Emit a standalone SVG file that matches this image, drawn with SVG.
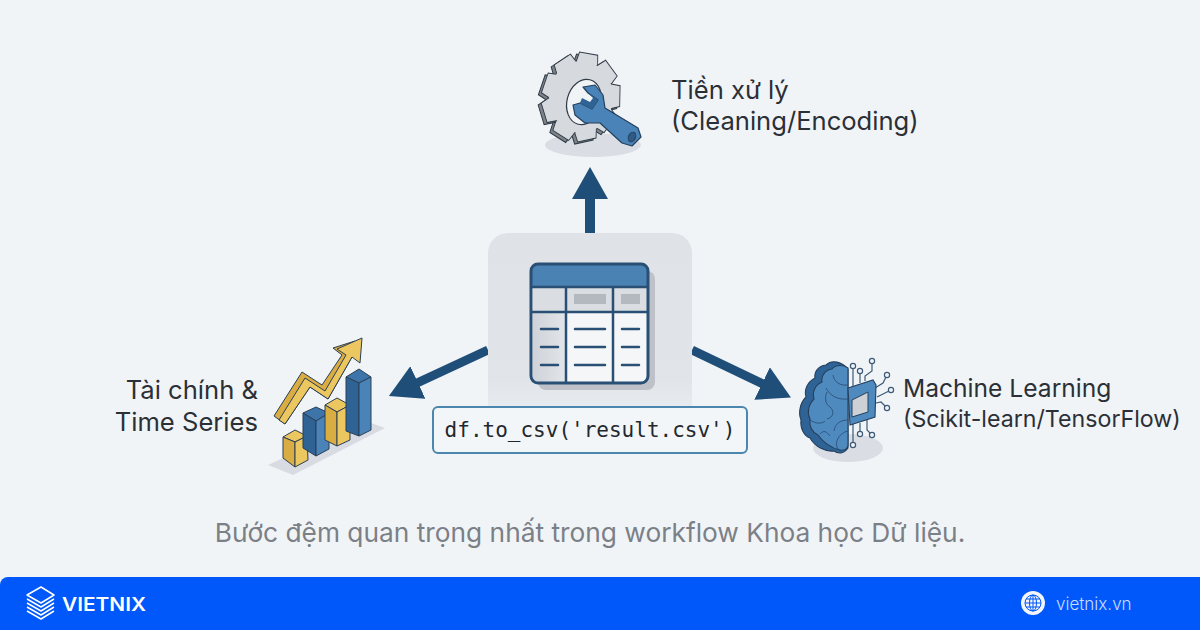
<svg xmlns="http://www.w3.org/2000/svg" xmlns:xlink="http://www.w3.org/1999/xlink" width="1200" height="630" viewBox="0 0 1200 630">
<style>
.lbl{font-family:Inter,"Liberation Sans",sans-serif;font-size:25.6px;fill:#2b3036}
.ol{stroke:#2b3f55;stroke-width:1;stroke-linejoin:round}
.yl{fill:#ecc75f}.yd{fill:#d9ad42}.bl{fill:#4a83b8}.bd{fill:#2f6396}.bt{fill:#3d75aa}
.tr{fill:none;stroke:#3c5a78;stroke-width:1.2}
.nd{fill:#f1f4f7;stroke:#3c5a78;stroke-width:1.2}
.tl{stroke:#2a4f74;stroke-width:2.5;fill:none;stroke-linecap:round}
.gl{fill:none;stroke:#0057fa;stroke-width:1}
.lg{fill:none;stroke:#fff;stroke-width:1.5;stroke-linejoin:round}
</style>
<defs>
<linearGradient id="box" x1="0" y1="0" x2="0" y2="1"><stop offset="0" stop-color="#dfe3e8"/><stop offset="0.75" stop-color="#e1e5ea"/><stop offset="1" stop-color="#eceff3"/></linearGradient>
<linearGradient id="col" x1="0" y1="0" x2="1" y2="0"><stop offset="0" stop-color="#cfd3d9"/><stop offset="1" stop-color="#e2e5e9"/></linearGradient>
<marker id="ah" markerUnits="userSpaceOnUse" markerWidth="34" markerHeight="36" refX="1" refY="18" orient="auto"><path d="M0 0L32 18L0 36Z" fill="#1f4e79"/></marker>
<path id="tooth" d="M-13-31L-10.500-44L10.500-44L13-31Z"/>
<g id="gear"><use xlink:href="#tooth" href="#tooth"/><use xlink:href="#tooth" href="#tooth" transform="rotate(40)"/><use xlink:href="#tooth" href="#tooth" transform="rotate(80)"/><use xlink:href="#tooth" href="#tooth" transform="rotate(120)"/><use xlink:href="#tooth" href="#tooth" transform="rotate(160)"/><use xlink:href="#tooth" href="#tooth" transform="rotate(200)"/><use xlink:href="#tooth" href="#tooth" transform="rotate(240)"/><use xlink:href="#tooth" href="#tooth" transform="rotate(280)"/><use xlink:href="#tooth" href="#tooth" transform="rotate(320)"/><circle r="34"/></g>
</defs>

<rect width="1200" height="630" fill="#f1f4f7"/>

<g id="connectors">
<line x1="590" y1="233" x2="590" y2="198" stroke="#1f4e79" stroke-width="10" marker-end="url(#ah)"/>
<line x1="488" y1="350" x2="417" y2="383" stroke="#1f4e79" stroke-width="9" marker-end="url(#ah)"/>
<line x1="692" y1="350" x2="763" y2="384" stroke="#1f4e79" stroke-width="9" marker-end="url(#ah)"/>
</g>

<g id="node-preprocess">
<ellipse cx="593" cy="145" rx="48" ry="12" fill="#dadee4"/>
<g transform="translate(578 99) rotate(10) scale(.88 1)" fill="#7d8389" stroke="#2f3a46" stroke-width="1.100"><use xlink:href="#gear" href="#gear"/></g>
<g transform="translate(581 97) rotate(10) scale(.88 1)" fill="#d6d9dd" stroke="#2f3a46" stroke-width="1"><use xlink:href="#gear" href="#gear"/></g>
<ellipse cx="581" cy="97" rx="32" ry="36" fill="#d6d9dd"/>
<ellipse cx="584" cy="102" rx="17" ry="23" transform="rotate(15 584 102)" fill="#f1f4f7" stroke="#2f3a46" stroke-width="1.200"/>
<path d="M583 87L595 85L603 95L605 108L638 128L641 137L632 146L622 143L600 123L585 123L575 115L573 105L580 103L592 109L598 100L588 93Z" fill="#4a83b8" stroke="#24405e" stroke-width="1.200" stroke-linejoin="round"/>
<path d="M588 93L598 100L592 109L580 103L582 98L590 102L593 98Z" fill="#2f6396"/>
<ellipse cx="632" cy="137" rx="3.500" ry="5" transform="rotate(25 632 137)" fill="#2f5a85" stroke="#24405e"/>
<text class="lbl" x="671" y="99">Tiền xử lý</text>
<text class="lbl" x="671" y="130">(Cleaning/Encoding)</text>
</g>

<g id="node-dataframe">
<rect x="488" y="233" width="204" height="195" rx="20" fill="url(#box)"/>
<rect x="538" y="271" width="117" height="119" rx="8" fill="#bec2c8"/>
<rect x="531" y="264" width="117" height="119" rx="7" fill="#f4f6f8"/>
<rect x="533" y="312" width="33" height="70" fill="url(#col)"/>
<rect x="533" y="288" width="114" height="24" fill="#dadde2"/>
<path d="M531 287V271a7 7 0 0 1 7-7h103a7 7 0 0 1 7 7v16Z" fill="#4a83b3"/>
<rect x="531" y="264" width="117" height="119" rx="7" fill="none" stroke="#2a4f74" stroke-width="3"/>
<path d="M531 287H648M531 312H648M566 287V383M613 287V383" stroke="#2a4f74" stroke-width="2.500" fill="none"/>
<rect x="574" y="294" width="32" height="10" fill="#b4b9c0"/>
<rect x="621" y="294" width="19" height="10" fill="#b4b9c0"/>
<path class="tl" d="M541 329H558M575 329H605M622 329H639M541 347H558M575 347H605M622 347H639M541 365H558M575 365H605M622 365H639"/>
<rect x="433" y="407" width="314" height="46" rx="5" fill="#f3f6f9" stroke="#4a86ad" stroke-width="2"/>
<text x="590" y="437" text-anchor="middle" font-family="'DejaVu Sans Mono','Liberation Mono',monospace" font-size="21" fill="#23282e">df.to_csv('result.csv')</text>
</g>

<g id="node-finance">
<path d="M268 465L363 420L385 428L293 475Z" fill="#d8dce2"/>
<path class="ol yl" d="M283 437L295 430L307 436L295 442Z"/>
<path class="ol yd" d="M283 437L295 442V467L283 458Z"/>
<path class="ol yl" d="M295 442L307 436L308 460L295 467Z"/>
<path class="ol bt" d="M303 413L316 407L329 413L316 421Z"/>
<path class="ol bd" d="M303 413L316 421V456L303 448Z"/>
<path class="ol bl" d="M316 421L329 413V449L316 456Z"/>
<path class="ol yl" d="M325 405L337 398L350 405L337 412Z"/>
<path class="ol yd" d="M325 405L337 412V446L325 440Z"/>
<path class="ol yl" d="M337 412L350 405V440L337 446Z"/>
<path class="ol bt" d="M346 377L359 369L371 377L359 383Z"/>
<path class="ol bd" d="M346 377L359 383V436L346 431Z"/>
<path class="ol bl" d="M359 383L371 377V430L359 436Z"/>
<path class="ol yd" d="M274 416L302 372L322 385L342 355L333 348L355 341L352 357L328 399L310 387L285 424Z"/>
<path class="ol yl" d="M279 420L305 378L325 391L346 355L337 349L362 338L360 363L352 357L328 399L310 387L285 424Z"/>
<text class="lbl" x="258" y="399" text-anchor="end">Tài chính &amp;</text>
<text class="lbl" x="258" y="431" text-anchor="end">Time Series</text>
</g>

<g id="node-ml">
<ellipse cx="848" cy="448" rx="35" ry="14" fill="#dadee4"/>
<path class="tr" d="M853 366V387M860 371V383M872 361V371L865 376V381M887 375L883 383L875 388M891 390L877 397M887 408L881 402L876 403M853 445V424M860 434V423M872 435L867 430V420"/>
<circle class="nd" cx="853" cy="366" r="2.600"/><circle class="nd" cx="860" cy="371" r="2.600"/><circle class="nd" cx="872" cy="361" r="2.600"/><circle class="nd" cx="887" cy="375" r="2.600"/><circle class="nd" cx="891" cy="390" r="2.600"/><circle class="nd" cx="887" cy="408" r="2.600"/><circle class="nd" cx="853" cy="445" r="2.600"/><circle class="nd" cx="860" cy="434" r="2.600"/><circle class="nd" cx="872" cy="435" r="2.600"/>
<path d="M848 369C842 362 832 359 826 365C818 366 814 372 815 378C807 382 804 390 806 397C800 403 798 413 801 420C800 428 804 436 810 438C815 447 826 452 834 451C838 454 844 454 848 448Z" fill="#2f6396" stroke="#24405e" stroke-width="1.100"/>
<path d="M848 368C844 365 836 364 832 369C825 370 821 376 822 382C815 385 812 392 814 399C808 405 807 413 810 419C809 426 812 432 818 435C823 442 831 448 840 450C844 451 848 449 848 445Z" fill="#4f8abf" stroke="#24405e" stroke-width="1.100"/>
<path d="M848 385C840 386 834 382 833 375M848 399C838 400 830 396 826 388M827 392C824 398 826 405 830 407C835 411 833 418 827 419M810 420C816 424 822 424 825 421M848 420C840 420 835 424 834 431M820 434C824 430 826 431 830 436M838 449C834 444 838 433 848 431" fill="none" stroke="#2a5078" stroke-width=".9"/>
<path d="M848 388L873 380L876 385L875 417L850 425Z" fill="#4f8abf" stroke="#24405e" stroke-width="1.100"/>
<path d="M852 400L868 392V412L852 417Z" fill="#cdd1d6" stroke="#24405e" stroke-width="1"/>
<text class="lbl" x="903" y="397" style="font-size:24.6px">Machine Learning</text>
<text class="lbl" x="903" y="427" style="font-size:23.2px">(Scikit-learn/TensorFlow)</text>
</g>

<text x="590" y="542" text-anchor="middle" font-family="Inter,'Liberation Sans',sans-serif" font-size="26.300" fill="#7b8087">Bước đệm quan trọng nhất trong workflow Khoa học Dữ liệu.</text>

<g id="footer">
<path d="M0 585a8 8 0 0 1 8-8H1200V630H0Z" fill="#0057fa"/>
<path class="lg" d="M41 587L54 595L41 603L27 595Z"/>
<path class="lg" d="M27 599L41 607L54 599M27 603L41 611L54 603M27 607L41 615L54 607M27 611L41 619L54 611"/>
<text x="62" y="611" font-family="Inter,'Liberation Sans',sans-serif" font-size="18" font-weight="600" fill="#fff" textLength="84" lengthAdjust="spacingAndGlyphs">VIETNIX</text>
<circle cx="1033" cy="603" r="12" fill="#f2f5fb"/>
<circle cx="1033" cy="603" r="8" class="gl"/>
<ellipse cx="1033" cy="603" rx="3.500" ry="8" class="gl"/>
<path class="gl" d="M1025 603H1041M1026 599H1040M1026 607H1040M1033 595V611"/>
<text x="1056" y="610" font-family="Inter,'Liberation Sans',sans-serif" font-size="17" font-weight="300" fill="#c9dcff">vietnix.vn</text>
</g>
</svg>
